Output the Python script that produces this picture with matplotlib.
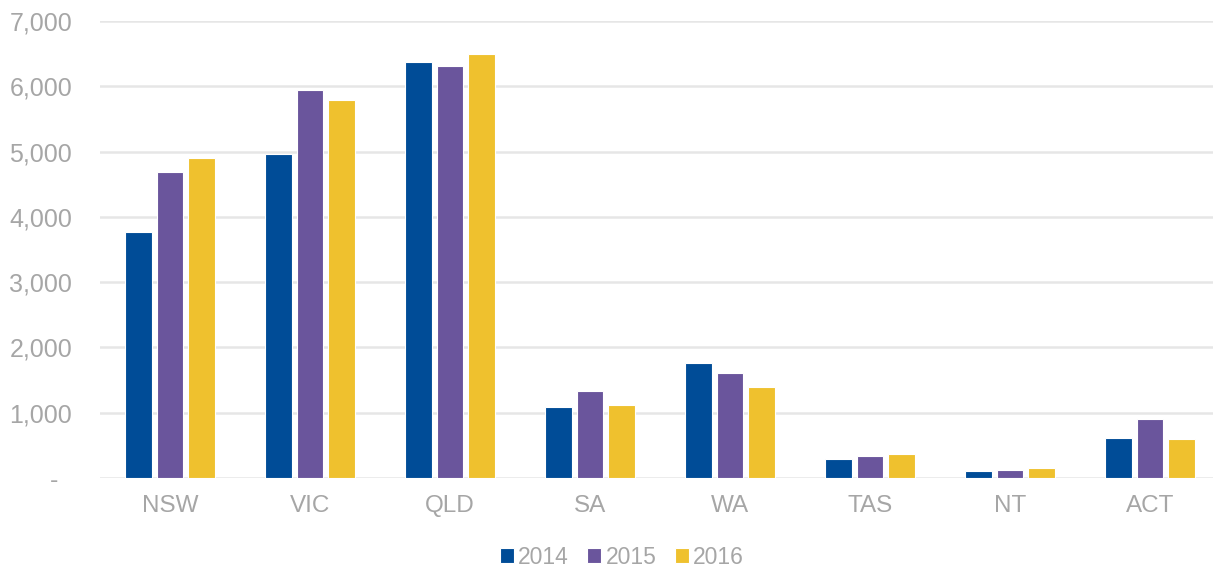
import numpy as np
import matplotlib
matplotlib.use('Agg')
from matplotlib import pyplot as plt
from matplotlib.ticker import FuncFormatter

plt.rcParams['font.family'] = ['Liberation Sans', 'DejaVu Sans']

states = ['NSW', 'VIC', 'QLD', 'SA', 'WA', 'TAS', 'NT', 'ACT']
years = ['2014', '2015', '2016']
v2014 = [3770, 4970, 6370, 1090, 1765, 285, 100, 620]
v2015 = [4680, 5940, 6310, 1325, 1610, 330, 120, 905]
v2016 = [4900, 5790, 6500, 1120, 1390, 365, 150, 595]
colors = ['#004C97', '#6A559C', '#EFC12E']

grey = '#A6A6A6'

fig = plt.figure(figsize=(12.14, 5.70), dpi=100)
ax = fig.add_axes([100/1214, 92/570, 1113/1214, 457/570])

x = np.arange(len(states))
step = 0.224
for i, vals in enumerate([v2014, v2015, v2016]):
    ax.bar(x + (i-1)*step, vals, width=0.19, color=colors[i],
           edgecolor='white', linewidth=0.8, label=years[i], zorder=3)

ax.set_xlim(-0.5, 7.45)
ax.set_ylim(0, 7000)
ax.set_yticks(np.arange(0, 7001, 1000))
ax.yaxis.set_major_formatter(FuncFormatter(lambda v, p: '-  ' if v == 0 else f'{int(v):,}'))
ax.set_xticks(x)
ax.set_xticklabels(states)

ax.grid(axis='y', color='#E6E6E6', linewidth=1.8, zorder=0)
for s in ax.spines.values():
    s.set_visible(False)
ax.tick_params(axis='both', length=0, colors=grey)
ax.tick_params(axis='y', pad=20, labelsize=18)
ax.tick_params(axis='x', pad=12, labelsize=17.5)

leg = fig.legend(loc='center', bbox_to_anchor=(622/1214, 1 - 557/570), ncol=3,
                 frameon=False, fontsize=16.5, handlelength=0.6, handleheight=0.6,
                 handletextpad=0.2, columnspacing=0.8, labelcolor=grey)

fig.savefig('out.png', dpi=100)
